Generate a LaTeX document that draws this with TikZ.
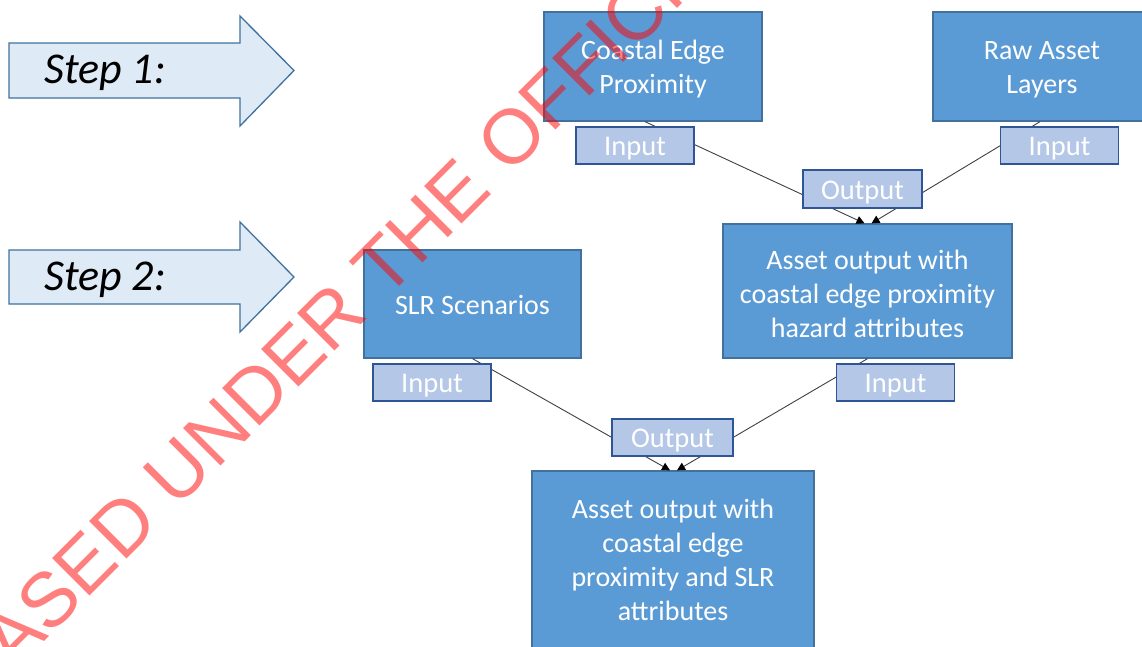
\documentclass[tikz,border=0pt]{standalone}
\usepackage{fontspec}
\setmainfont{Carlito}
\newfontfamily\wmfont{Liberation Sans}
\usetikzlibrary{arrows.meta}
\definecolor{boxfill}{HTML}{5B9BD5}
\definecolor{boxline}{HTML}{41719C}
\definecolor{labfill}{HTML}{B4C7E7}
\definecolor{labline}{HTML}{2F5597}
\definecolor{stepfill}{HTML}{DEEBF7}
\definecolor{connline}{HTML}{404040}
\begin{document}
\begin{tikzpicture}[x=1pt,y=-1pt,
  mainbox/.style={draw=boxline, fill=boxfill, line width=1.3pt, inner sep=0pt},
  boxtext/.style={text=white, inner sep=0pt, align=center, font=\fontsize{28}{34}\selectfont},
  labbox/.style={draw=labline, fill=labfill, line width=1.8pt, inner sep=0pt, minimum width=118pt, minimum height=37pt},
  labtext/.style={text=white, inner sep=0pt, font=\fontsize{28.5}{30}\selectfont},
  stepshape/.style={draw=boxline, fill=stepfill, line width=1.3pt, line join=miter},
  steptext/.style={anchor=base west, inner sep=0pt, font=\fontsize{44}{48}\selectfont\itshape},
  connector/.style={draw=connline, line width=0.9pt, -{Triangle[length=8pt,width=8pt,color=black]}},
  watermark/.style={rotate=45, anchor=base west, inner sep=0pt, text=red, text opacity=0.5, font=\fontsize{77}{77}\wmfont}]
\useasboundingbox (0,0) rectangle (1142,646);
\clip (0,0) rectangle (1142,646);

% step arrows
\draw[stepshape] (9,43) -- (240,43) -- (240,16) -- (294,70.5) -- (240,126) -- (240,98) -- (9,98) -- cycle;
\node[steptext] (step1) at (44,83) {Step 1:};
\draw[stepshape] (9,250) -- (240,250) -- (240,222) -- (294,277) -- (240,332) -- (240,304) -- (9,304) -- cycle;
\node[steptext] (step2) at (44,290) {Step 2:};

% main boxes
\node[mainbox, minimum width=218pt, minimum height=109pt] (cep) at (653,66.5) {};
\node[boxtext] (cep-t) at ([yshift=-3pt]cep.center) {Coastal Edge\\Proximity};
\node[mainbox, minimum width=218pt, minimum height=109pt] (raw) at (1042,66.5) {};
\node[boxtext] (raw-t) at ([yshift=-3pt]raw.center) {Raw Asset\\Layers};
\node[mainbox, minimum width=289pt, minimum height=134pt] (mid) at (867.5,291) {};
\node[boxtext] (mid-t) at ([yshift=-3pt]mid.center) {Asset output with\\coastal edge proximity\\hazard attributes};
\node[mainbox, minimum width=217pt, minimum height=108pt] (slr) at (472.5,304) {};
\node[boxtext] (slr-t) at ([yshift=-1pt]slr.center) {SLR Scenarios};
\node[mainbox, minimum width=282pt, minimum height=178pt] (bot) at (673,560) {};
\node[boxtext] (bot-t) at (bot.center) {Asset output with\\coastal edge\\proximity and SLR\\attributes};

% connectors
\draw[connector] ([xshift=-8pt]cep.south) -- ([xshift=-3pt]mid.north);
\draw[connector] ([xshift=-2pt]raw.south) -- ([xshift=4pt]mid.north);
\draw[connector] (slr.south) -- ([xshift=-3pt]bot.north);
\draw[connector] (mid.south) -- ([xshift=4pt]bot.north);

% labels
\node[labbox] (in1) at (635,145.5) {};
\node[labtext] at ([yshift=-3.5pt]in1.center) {Input};
\node[labbox] (in2) at (1059.5,145.5) {};
\node[labtext] at ([yshift=-3.5pt]in2.center) {Input};
\node[labbox, minimum width=119pt, minimum height=38pt] (out1) at (862.5,189) {};
\node[labtext] at ([yshift=-3.5pt]out1.center) {Output};
\node[labbox] (in3) at (432,382.5) {};
\node[labtext] at ([yshift=-3.5pt]in3.center) {Input};
\node[labbox] (in4) at (895.5,382.5) {};
\node[labtext] at ([yshift=-3.5pt]in4.center) {Input};
\node[labbox, minimum width=121pt] (out2) at (672.5,437.5) {};
\node[labtext] at ([yshift=-3.5pt]out2.center) {Output};

% watermark
\node[watermark] (wm) at (-129,815) {RELEASED UNDER THE OFFICIAL INFORMATION ACT};
\end{tikzpicture}
\end{document}
